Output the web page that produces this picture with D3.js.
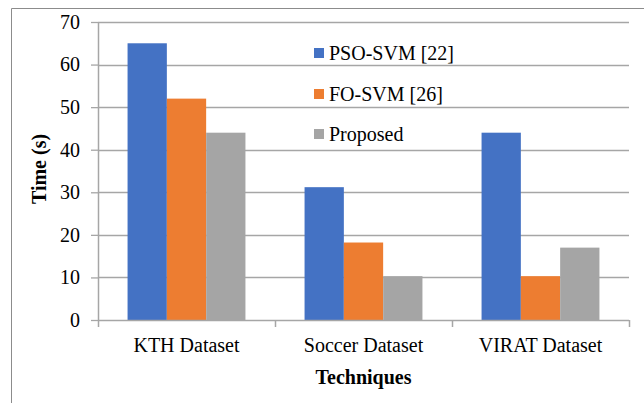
<!DOCTYPE html>
<html>
<head>
<meta charset="utf-8">
<script src="https://cdn.jsdelivr.net/npm/d3@7"></script>
<style>
    body { margin: 0; background: #fff; }
</style>
</head>
<body>
<div id="chart"></div>
<script>
(function () {
    "use strict";

    const categories = ["KTH Dataset", "Soccer Dataset", "VIRAT Dataset"];
    const seriesNames = ["PSO-SVM [22]", "FO-SVM [26]", "Proposed"];
    const psoSvm = [65, 31.2, 44];
    const foSvm = [52, 18.2, 10.3];
    const proposed = [44, 10.3, 17];
    const yTicks = [0, 10, 20, 30, 40, 50, 60, 70];
    const colors = ["#4472c4", "#ed7d31", "#a5a5a5"];

    const values = [psoSvm, foSvm, proposed];
    const width = 644, height = 403;
    const margin = { top: 22, right: 15, bottom: 83, left: 98 };
    const plotWidth = width - margin.left - margin.right;
    const plotHeight = height - margin.top - margin.bottom;
    const fontFamily = "'Liberation Serif', 'Times New Roman', Times, serif";

    const svg = d3.select("#chart").append("svg")
        .attr("width", width)
        .attr("height", height)
        .style("font-family", fontFamily);

    // outer chart frame (cut off at right and bottom)
    svg.append("path")
        .attr("d", `M11.5,${height}V8.5H${width}`)
        .attr("fill", "none")
        .attr("stroke", "#8c8c8c")
        .attr("stroke-width", 1);

    const canvas = svg.append("g")
        .attr("transform", `translate(${margin.left},${margin.top})`);

    const xScale = d3.scaleBand()
        .domain(categories)
        .range([0, plotWidth]);

    const yScale = d3.scaleLinear()
        .domain([0, 70])
        .range([plotHeight, 0]);

    // gridlines
    canvas.append("g")
        .selectAll("line")
        .data(yTicks.filter(d => d > 0))
        .join("line")
        .attr("x1", 0)
        .attr("x2", plotWidth)
        .attr("y1", d => Math.round(yScale(d)) + 0.5)
        .attr("y2", d => Math.round(yScale(d)) + 0.5)
        .attr("stroke", "#a6a6a6")
        .attr("stroke-width", 1.3);

    // bars
    const barWidth = xScale.bandwidth() * 0.222;
    const groupOffset = (xScale.bandwidth() - barWidth * 3) / 2;

    values.forEach((series, i) => {
        canvas.append("g")
            .selectAll("rect")
            .data(series)
            .join("rect")
            .attr("x", (d, j) => xScale(categories[j]) + groupOffset + i * barWidth)
            .attr("y", d => yScale(d))
            .attr("width", barWidth)
            .attr("height", d => plotHeight - yScale(d))
            .attr("fill", colors[i]);
    });

    // y axis
    const yAxis = d3.axisLeft(yScale)
        .tickValues(yTicks)
        .tickSize(7)
        .tickPadding(11)
        .tickFormat(d3.format("d"));

    const yAxisG = canvas.append("g")
        .call(yAxis)
        .attr("font-family", null)
        .attr("font-size", null);
    yAxisG.select(".domain")
        .attr("d", `M0.5,0V${plotHeight}`)
        .attr("stroke", "#a6a6a6")
        .attr("stroke-width", 1.5);
    yAxisG.selectAll(".tick line").attr("stroke", "#a6a6a6").attr("stroke-width", 1.3);
    yAxisG.selectAll(".tick text")
        .style("font-family", fontFamily)
        .style("font-size", "20px")
        .attr("fill", "#000");

    // x axis
    const xAxisG = canvas.append("g")
        .attr("transform", `translate(0,${plotHeight})`);
    xAxisG.append("line")
        .attr("x1", 0)
        .attr("x2", plotWidth)
        .attr("y1", 0.5)
        .attr("y2", 0.5)
        .attr("stroke", "#a6a6a6")
        .attr("stroke-width", 1.5);
    const boundaries = categories.map(c => xScale(c)).concat([plotWidth]);
    xAxisG.selectAll("line.tick")
        .data(boundaries)
        .join("line")
        .attr("class", "tick")
        .attr("x1", d => d + 0.5)
        .attr("x2", d => d + 0.5)
        .attr("y1", 0)
        .attr("y2", 7)
        .attr("stroke", "#a6a6a6")
        .attr("stroke-width", 1.5);
    xAxisG.selectAll("text")
        .data(categories)
        .join("text")
        .attr("x", d => xScale(d) + xScale.bandwidth() / 2)
        .attr("y", 32)
        .attr("text-anchor", "middle")
        .style("font-size", "20px")
        .text(d => d);

    // axis titles
    svg.append("text")
        .attr("x", margin.left + plotWidth / 2)
        .attr("y", 384)
        .attr("text-anchor", "middle")
        .style("font-size", "20px")
        .style("font-weight", "bold")
        .text("Techniques");

    svg.append("text")
        .attr("transform", `translate(46,${margin.top + plotHeight / 2 - 2}) rotate(-90)`)
        .attr("text-anchor", "middle")
        .style("font-size", "20px")
        .style("font-weight", "bold")
        .text("Time (s)");

    // legend
    const legendY = [53, 94, 134];
    const legend = svg.append("g");
    seriesNames.forEach((name, i) => {
        legend.append("rect")
            .attr("x", 314)
            .attr("y", legendY[i] - 5)
            .attr("width", 10)
            .attr("height", 10)
            .attr("fill", colors[i]);
        legend.append("text")
            .attr("x", 329)
            .attr("y", legendY[i] + 7)
            .style("font-size", "20px")
            .text(name);
    });
}());
</script>
</body>
</html>
